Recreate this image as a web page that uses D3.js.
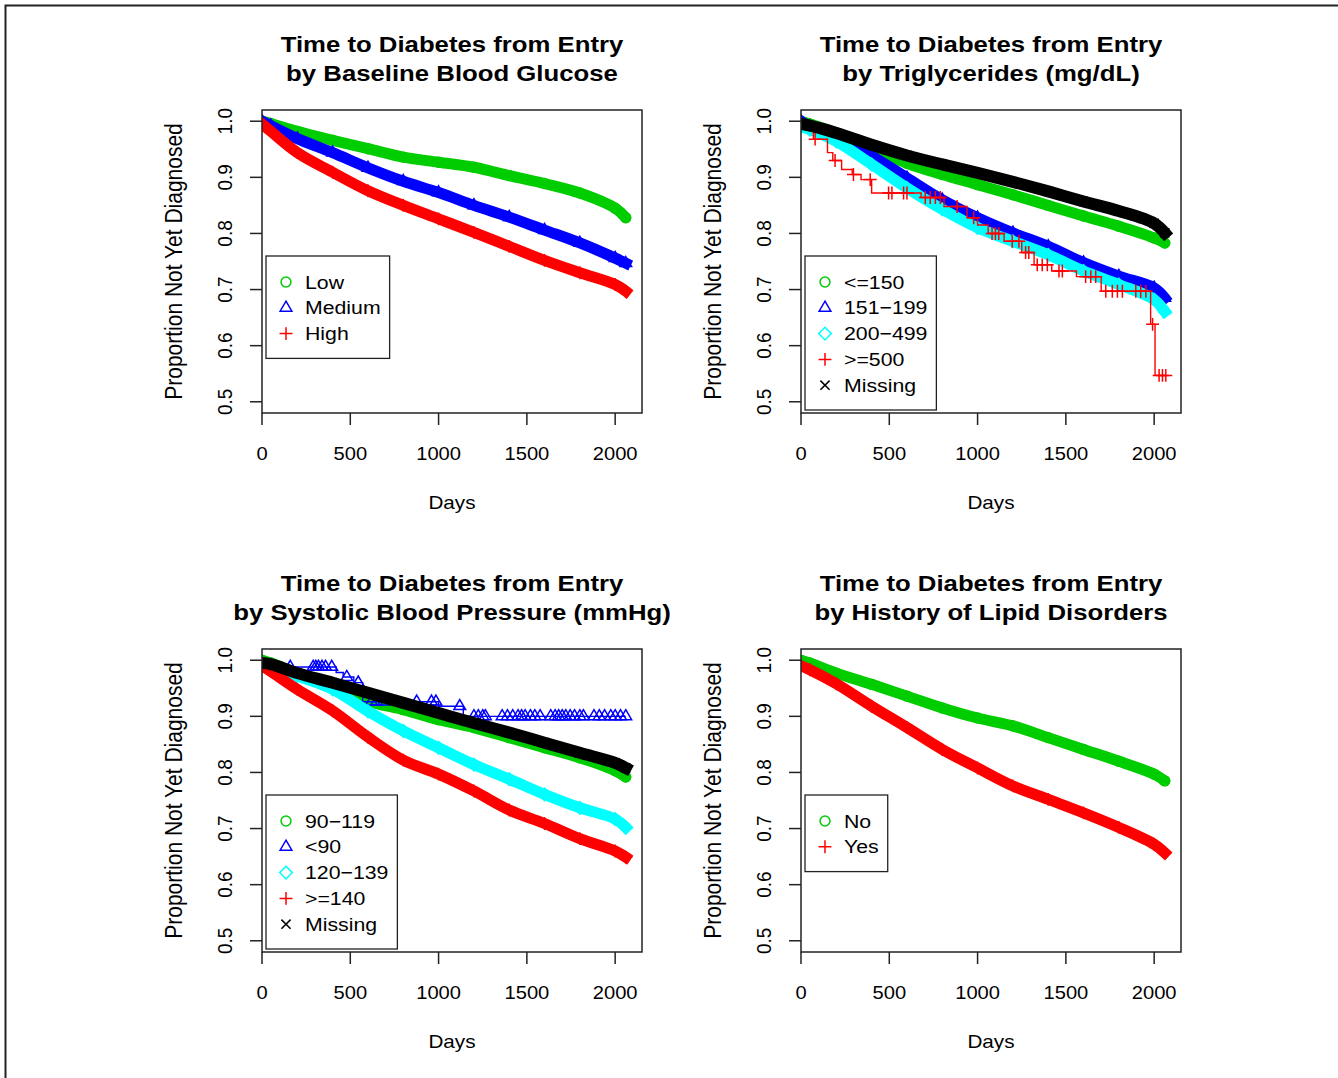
<!DOCTYPE html>
<html>
<head>
<meta charset="utf-8">
<script src="https://cdn.jsdelivr.net/npm/d3@7/dist/d3.min.js"></script>
<style>
body { margin: 0; background: #fff; }
text { font-family: "Liberation Sans", Arial, Helvetica, sans-serif; fill: #000; }
</style>
</head>
<body>
<div id="chart"></div>
<script>
// ---- データ ----
// 共通の日数グリッド
const dayGrid = [0, 50, 200, 400, 600, 800, 1000, 1200, 1400, 1600, 1800, 2000, 2060];

// 1: Baseline Blood Glucose
const glucoseLow    = [1.000, 0.996, 0.982, 0.966, 0.951, 0.936, 0.927, 0.918, 0.903, 0.889, 0.872, 0.845, 0.828];
const glucoseMedium = [1.000, 0.992, 0.969, 0.944, 0.917, 0.893, 0.873, 0.850, 0.829, 0.806, 0.783, 0.756, 0.747];
const glucoseHigh   = [0.995, 0.982, 0.944, 0.909, 0.876, 0.850, 0.826, 0.802, 0.777, 0.752, 0.730, 0.709, 0.697];

// 2: Triglycerides
const trigLow     = [1.000, 0.995, 0.979, 0.952, 0.925, 0.905, 0.887, 0.869, 0.850, 0.831, 0.813, 0.792, 0.783];
const trig151     = [1.000, 0.990, 0.970, 0.938, 0.899, 0.860, 0.828, 0.801, 0.777, 0.748, 0.724, 0.703, 0.685];
const trig200     = [0.990, 0.985, 0.964, 0.923, 0.881, 0.843, 0.810, 0.786, 0.762, 0.733, 0.709, 0.682, 0.661];
const trigMissing = [0.995, 0.992, 0.979, 0.958, 0.939, 0.923, 0.908, 0.892, 0.875, 0.857, 0.840, 0.818, 0.801];
// >=500 は階段関数
const trig500Days   = [0, 40, 70, 150, 180, 230, 290, 340, 400, 680, 810, 940, 1000, 1060, 1150, 1250, 1320, 1420, 1560, 1700, 1980, 2005];
const trig500Vals   = [1.000, 0.985, 0.968, 0.944, 0.930, 0.914, 0.905, 0.896, 0.872, 0.864, 0.848, 0.828, 0.815, 0.800, 0.786, 0.766, 0.744, 0.733, 0.723, 0.697, 0.638, 0.547];
const trig500Censor = [80, 193, 297, 392, 496, 515, 581, 600, 704, 732, 761, 789, 884, 978, 1082, 1101, 1120, 1196, 1234, 1272, 1290, 1338, 1366, 1395, 1461, 1480, 1612, 1641, 1669, 1726, 1763, 1792, 1820, 1896, 1924, 1953, 1991, 2028, 2047, 2066];

// 3: Systolic Blood Pressure
const sbp90     = [1.000, 0.995, 0.977, 0.954, 0.927, 0.912, 0.894, 0.880, 0.862, 0.844, 0.826, 0.803, 0.792];
const sbp120    = [0.995, 0.990, 0.972, 0.948, 0.909, 0.874, 0.844, 0.814, 0.788, 0.761, 0.737, 0.717, 0.702];
const sbp140    = [0.990, 0.980, 0.948, 0.910, 0.863, 0.822, 0.797, 0.767, 0.733, 0.709, 0.682, 0.660, 0.649];
const sbpMissing = [0.995, 0.993, 0.977, 0.960, 0.942, 0.924, 0.906, 0.888, 0.871, 0.853, 0.835, 0.817, 0.808];
// <90 は階段関数
const sbpUnder90Days   = [0, 60, 420, 460, 520, 570, 1000, 1140];
const sbpUnder90Vals   = [1.000, 0.988, 0.978, 0.970, 0.960, 0.926, 0.918, 0.900];
const sbpUnder90Censor = [160, 290, 305, 320, 340, 360, 395, 480, 545, 620, 650, 690, 876, 960, 985, 1120, 1200, 1225, 1250, 1265, 1360, 1390, 1420, 1450, 1470, 1490, 1520, 1545, 1575, 1635, 1660, 1680, 1700, 1720, 1745, 1770, 1800, 1820, 1880, 1910, 1940, 1975, 2000, 2030, 2060];

// 4: History of Lipid Disorders
const lipidNo  = [1.000, 0.995, 0.977, 0.957, 0.936, 0.915, 0.897, 0.883, 0.862, 0.841, 0.820, 0.797, 0.785];
const lipidYes = [0.990, 0.983, 0.958, 0.918, 0.880, 0.841, 0.808, 0.776, 0.752, 0.728, 0.702, 0.672, 0.657];

const endDay = 2060;
const xTicks = [0, 500, 1000, 1500, 2000];
const yTicks = [0.5, 0.6, 0.7, 0.8, 0.9, 1.0];

const titles = [
    ["Time to Diabetes from Entry", "by Baseline Blood Glucose"],
    ["Time to Diabetes from Entry", "by Triglycerides (mg/dL)"],
    ["Time to Diabetes from Entry", "by Systolic Blood Pressure (mmHg)"],
    ["Time to Diabetes from Entry", "by History of Lipid Disorders"]
];

// ---- 描画 ----
const W = 1338, H = 1078;
const boxW = 380, boxH = 303;
const SX = 1.15; // 元画像は横に少し引き伸ばされている
const MS = 1.15; // 記号の大きさ

const svg = d3.select('#chart').append('svg')
    .attr('width', W)
    .attr('height', H);

svg.append('rect').attr('width', W).attr('height', H).attr('fill', '#fff');

// 外枠（上と左だけ）
svg.append('path')
    .attr('d', `M5.5,${H} V5.5 H${W}`)
    .attr('fill', 'none')
    .attr('stroke', '#222')
    .attr('stroke-width', 2);

function zip(days, vals) {
    return days.map((d, i) => [d, vals[i]]);
}

// 階段関数の値を取得
function stepAt(days, vals, d) {
    const i = d3.bisectRight(days, d) - 1;
    return vals[Math.max(0, i)];
}

// 記号を描く
function marker(g, shape, cx, cy, color) {
    let m;
    if (shape === 'circle') {
        m = g.append('circle').attr('cx', cx).attr('cy', cy).attr('r', 4.3 * MS);
    } else {
        let d;
        if (shape === 'triangle') d = 'M0,-5.8L5.1,2.9L-5.1,2.9Z';
        if (shape === 'diamond') d = 'M0,-5.5L5.5,0L0,5.5L-5.5,0Z';
        if (shape === 'plus') d = 'M-5.6,0H5.6M0,-5.6V5.6';
        if (shape === 'cross') d = 'M-4,-4L4,4M-4,4L4,-4';
        m = g.append('path').attr('d', d)
            .attr('transform', `translate(${cx},${cy}) scale(${MS})`)
            .attr('vector-effect', 'non-scaling-stroke');
    }
    m.attr('fill', 'none').attr('stroke', color).attr('stroke-width', 1.5);
}

function hText(g, x, y, str, size, anchor, bold, sx) {
    return g.append('text')
        .attr('transform', `translate(${x},${y}) scale(${sx || SX},1)`)
        .attr('text-anchor', anchor)
        .attr('font-size', size)
        .attr('font-weight', bold ? 'bold' : 'normal')
        .text(str);
}

function vText(g, x, y, str, size, sx) {
    return g.append('text')
        .attr('transform', `translate(${x},${y}) scale(${sx},1) rotate(-90)`)
        .attr('text-anchor', 'middle')
        .attr('font-size', size)
        .text(str);
}

function panel(left, top, title, series) {
    const g = svg.append('g');

    const x = d3.scaleLinear().domain([0, 2152]).range([left, left + boxW]);
    const y = d3.scaleLinear().domain([0.48, 1.02]).range([top + boxH, top]);

    // 曲線
    const clip = 'clip' + left + '_' + top;
    g.append('clipPath').attr('id', clip)
        .append('rect').attr('x', left).attr('y', top).attr('width', boxW).attr('height', boxH);
    const plot = g.append('g').attr('clip-path', `url(#${clip})`);

    const band = d3.line().x(d => x(d[0])).y(d => y(d[1])).curve(d3.curveCatmullRom.alpha(0.5));
    const step = d3.line().x(d => x(d[0])).y(d => y(d[1])).curve(d3.curveStepAfter);

    series.forEach(s => {
        if (s.censor) {
            const pts = zip(s.days, s.vals);
            pts.push([endDay, s.vals[s.vals.length - 1]]);
            plot.append('path')
                .attr('d', step(pts))
                .attr('fill', 'none')
                .attr('stroke', s.color)
                .attr('stroke-width', 1.4);
            s.censor.forEach(d => marker(plot, s.shape, x(d), y(stepAt(s.days, s.vals, d)), s.color));
        } else {
            const pts = zip(dayGrid, s.vals);
            plot.append('path')
                .attr('d', band(pts))
                .attr('fill', 'none')
                .attr('stroke', s.color)
                .attr('stroke-width', s.shape === 'cross' ? 12 : 11)
                .attr('stroke-linejoin', 'round')
                .attr('stroke-linecap', s.shape === 'circle' ? 'round' : 'square');
            pts.forEach(p => marker(plot, s.shape, x(p[0]), y(p[1]), s.color));
        }
    });

    // 枠
    g.append('rect')
        .attr('x', left).attr('y', top)
        .attr('width', boxW).attr('height', boxH)
        .attr('fill', 'none')
        .attr('stroke', '#222')
        .attr('stroke-width', 1.5);

    // x軸
    xTicks.forEach(t => {
        g.append('line')
            .attr('x1', x(t)).attr('x2', x(t))
            .attr('y1', top + boxH).attr('y2', top + boxH + 12)
            .attr('stroke', '#222').attr('stroke-width', 1.5);
        hText(g, x(t), top + boxH + 46.5, String(t), 17.5, 'middle');
    });
    // y軸
    yTicks.forEach(t => {
        g.append('line')
            .attr('x1', left - 12).attr('x2', left)
            .attr('y1', y(t)).attr('y2', y(t))
            .attr('stroke', '#222').attr('stroke-width', 1.5);
        vText(g, left - 30, y(t), d3.format('.1f')(t), 19, 1.1);
    });

    hText(g, left + boxW / 2, top + boxH + 96, 'Days', 18, 'middle');
    vText(g, left - 80, top + boxH / 2, 'Proportion Not Yet Diagnosed', 21, 1.1);

    // タイトル
    hText(g, left + boxW / 2, top - 58, title[0], 22, 'middle', true, 1.17);
    hText(g, left + boxW / 2, top - 29, title[1], 22, 'middle', true, 1.17);

    // 凡例
    const lg = g.append('g');
    const lx = left + 4, ly = top + 146;
    const texts = [];
    series.forEach((s, i) => {
        const cy = ly + 26 + i * 25.8;
        marker(lg, s.shape, lx + 20, cy, s.color);
        texts.push(hText(lg, lx + 39, cy + 6.6, s.label, 18.5, 'start'));
    });
    const maxW = d3.max(texts, t => t.node().getBoundingClientRect().width);
    lg.insert('rect', ':first-child')
        .attr('x', lx).attr('y', ly)
        .attr('width', 39 + maxW + 9)
        .attr('height', 25 + series.length * 25.8)
        .attr('fill', '#fff')
        .attr('stroke', '#222')
        .attr('stroke-width', 1.3);
}

const GREEN = '#00cd00', BLUE = '#0000ff', CYAN = '#00ffff', RED = '#ff0000', BLACK = '#000000';

panel(262, 110, titles[0], [
    { label: 'Low', color: GREEN, shape: 'circle', vals: glucoseLow },
    { label: 'Medium', color: BLUE, shape: 'triangle', vals: glucoseMedium },
    { label: 'High', color: RED, shape: 'plus', vals: glucoseHigh }
]);

panel(801, 110, titles[1], [
    { label: '<=150', color: GREEN, shape: 'circle', vals: trigLow },
    { label: '151\u2212199', color: BLUE, shape: 'triangle', vals: trig151 },
    { label: '200\u2212499', color: CYAN, shape: 'diamond', vals: trig200 },
    { label: '>=500', color: RED, shape: 'plus', days: trig500Days, vals: trig500Vals, censor: trig500Censor },
    { label: 'Missing', color: BLACK, shape: 'cross', vals: trigMissing }
]);

panel(262, 649, titles[2], [
    { label: '90\u2212119', color: GREEN, shape: 'circle', vals: sbp90 },
    { label: '<90', color: BLUE, shape: 'triangle', days: sbpUnder90Days, vals: sbpUnder90Vals, censor: sbpUnder90Censor },
    { label: '120\u2212139', color: CYAN, shape: 'diamond', vals: sbp120 },
    { label: '>=140', color: RED, shape: 'plus', vals: sbp140 },
    { label: 'Missing', color: BLACK, shape: 'cross', vals: sbpMissing }
]);

panel(801, 649, titles[3], [
    { label: 'No', color: GREEN, shape: 'circle', vals: lipidNo },
    { label: 'Yes', color: RED, shape: 'plus', vals: lipidYes }
]);
</script>
</body>
</html>
